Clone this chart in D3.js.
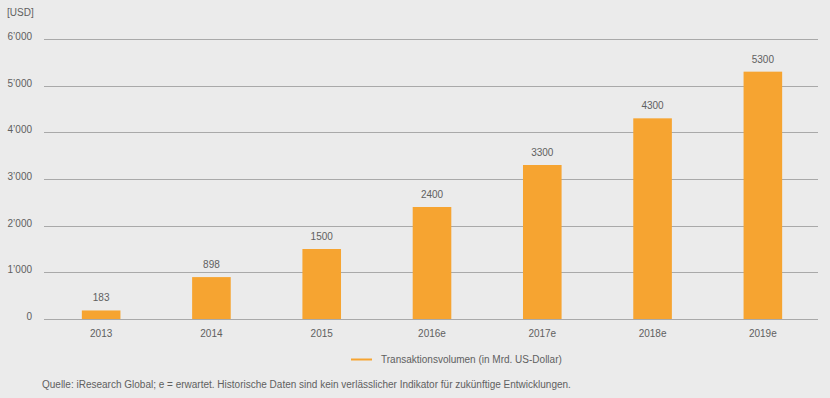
<!DOCTYPE html>
<html>
<head>
<meta charset="utf-8">
<script src="https://cdn.jsdelivr.net/npm/d3@7"></script>
<style>
  html, body { margin: 0; background: #ebebeb; overflow: hidden; }
  svg { display: block; }
  text { font-family: "Liberation Sans", Arial, sans-serif; fill: #606060; }
</style>
</head>
<body>
<script>
// Transaktionsvolumen chart

const years = ["2013", "2014", "2015", "2016e", "2017e", "2018e", "2019e"];
const volumes = [183, 898, 1500, 2400, 3300, 4300, 5300];
const yTicks = [0, 1000, 2000, 3000, 4000, 5000, 6000];
const yTickLabels = ["0", "1’000", "2’000", "3’000", "4’000", "5’000", "6’000"];
const unitLabel = "[USD]";
const legendLabel = "Transaktionsvolumen (in Mrd. US-Dollar)";
const sourceNote = "Quelle: iResearch Global; e = erwartet. Historische Daten sind kein verlässlicher Indikator für zukünftige Entwicklungen.";

const outerWidth = 830;
const outerHeight = 398;
const margin = {top: 39, right: 12, bottom: 79, left: 44};
const barColor = "#f6a431";
const fontSize = "10px";

const svg = d3.select("body").append("svg")
    .attr("width", outerWidth)
    .attr("height", outerHeight);

const g = svg.append("g")
    .attr("transform", "translate(" + margin.left + "," + margin.top + ")");

const innerWidth = outerWidth - margin.left - margin.right;
const innerHeight = outerHeight - margin.top - margin.bottom;

const x = d3.scaleBand()
    .domain(years)
    .range([2, innerWidth])
    .paddingInner(0.65)
    .paddingOuter(0.325);

const y = d3.scaleLinear()
    .domain([0, 6000])
    .range([innerHeight, 0]);

// gridlines + y labels
g.selectAll(".grid")
  .data(yTicks)
  .join("line")
    .attr("class", "grid")
    .attr("x1", 0)
    .attr("x2", innerWidth)
    .attr("y1", d => Math.round(y(d)) + 0.5)
    .attr("y2", d => Math.round(y(d)) + 0.5)
    .style("stroke", "#a9a9a9")
    .style("stroke-width", 1);

g.selectAll(".ylab")
  .data(yTicks)
  .join("text")
    .attr("class", "ylab")
    .attr("x", -12)
    .attr("y", d => y(d) + 1)
    .attr("text-anchor", "end")
    .style("font-size", fontSize)
    .text((d, i) => yTickLabels[i]);

svg.append("text")
    .attr("x", 7)
    .attr("y", 16)
    .style("font-size", fontSize)
    .text(unitLabel);

// bars
const data = years.map((d, i) => ({year: d, value: volumes[i]}));

g.selectAll(".bar")
  .data(data)
  .join("rect")
    .attr("class", "bar")
    .attr("x", d => x(d.year))
    .attr("y", d => y(d.value))
    .attr("width", x.bandwidth())
    .attr("height", d => innerHeight - y(d.value))
    .style("fill", barColor);

g.selectAll(".vlab")
  .data(data)
  .join("text")
    .attr("class", "vlab")
    .attr("x", d => x(d.year) + x.bandwidth() / 2)
    .attr("y", d => y(d.value) - 9)
    .attr("text-anchor", "middle")
    .style("font-size", fontSize)
    .text(d => d.value);

// x axis labels
g.selectAll(".xlab")
  .data(years)
  .join("text")
    .attr("class", "xlab")
    .attr("x", d => x(d) + x.bandwidth() / 2)
    .attr("y", innerHeight + 18)
    .attr("text-anchor", "middle")
    .style("font-size", fontSize)
    .text(d => d);

// legend
svg.append("line")
    .attr("x1", 351).attr("x2", 372)
    .attr("y1", 359.5).attr("y2", 359.5)
    .style("stroke", barColor)
    .style("stroke-width", 2);

svg.append("text")
    .attr("x", 381)
    .attr("y", 363)
    .style("font-size", fontSize)
    .text(legendLabel);

// source
svg.append("text")
    .attr("x", 42)
    .attr("y", 388)
    .style("font-size", fontSize)
    .text(sourceNote);
</script>
</body>
</html>
